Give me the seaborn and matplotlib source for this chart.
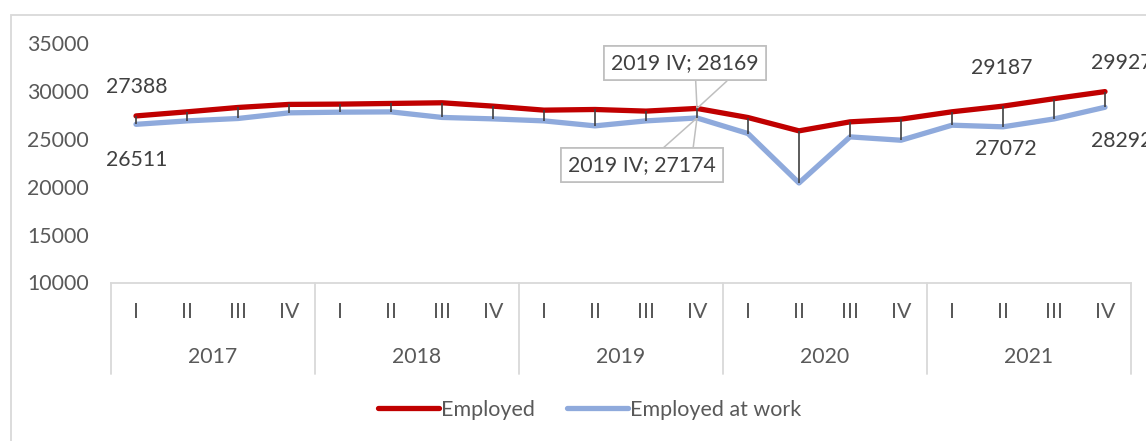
import pandas as pd
import matplotlib
matplotlib.use("Agg")
import matplotlib.pyplot as plt
import seaborn as sns
from matplotlib.patches import Rectangle
from matplotlib.lines import Line2D

sns.set_style("white")
plt.rcParams["font.family"] = ["Lato", "DejaVu Sans"]

# Dados
years = ["2017", "2018", "2019", "2020", "2021"]
quarters = ["I", "II", "III", "IV"]
employed = [27388, 27815, 28270, 28590, 28620, 28690, 28760, 28410, 27990, 28060,
            27890, 28169, 27220, 25830, 26770, 27050, 27820, 28410, 29187, 29927]
at_work = [26511, 26870, 27120, 27710, 27780, 27810, 27230, 27080, 26870, 26350,
           26870, 27174, 25550, 20390, 25200, 24850, 26420, 26250, 27072, 28292]
series_names = ["Employed", "Employed at work"]
colors = {"Employed": "#C00000", "Employed at work": "#8FAADC"}

FS = 15.3  # tamanho da fonte

n = len(employed)
pos = list(range(n))
df = pd.concat([
    pd.DataFrame({"pos": pos, "value": at_work, "serie": series_names[1]}),
    pd.DataFrame({"pos": pos, "value": employed, "serie": series_names[0]}),
])

W, H = 1146, 441
fig = plt.figure(figsize=(W / 100, H / 100), dpi=100)
ax = fig.add_axes([110.5 / W, 1 - 282.5 / H, 1020 / W, 239.5 / H])

sns.lineplot(data=df, x="pos", y="value", hue="serie", palette=colors, ax=ax,
             linewidth=3.8, legend=False, solid_capstyle="round", sort=False)

# linhas máximo-mínimo
ax.vlines(pos, at_work, employed, color="#404040", lw=1.2, zorder=5)

ax.set_xlim(-0.5, n - 0.5)
ax.set_ylim(10000, 35000)
ax.set_yticks(range(10000, 35001, 5000))
ax.tick_params(axis="y", length=0, pad=15.5, labelsize=FS, labelcolor="#595959")
ax.set_xticks([])
ax.set_xlabel("")
ax.set_ylabel("")
for s in ["top", "left", "right"]:
    ax.spines[s].set_visible(False)
ax.spines["bottom"].set_color("#D9D9D9")
ax.spines["bottom"].set_linewidth(1.3)

# eixo de categorias em dois níveis
tr = ax.get_xaxis_transform()
for i in range(n):
    ax.text(i, -0.125, quarters[i % 4], transform=tr, ha="center", va="center",
            fontsize=FS, color="#595959")
for k, y in enumerate(years):
    ax.text(4 * k + 1.5, -0.313, y, transform=tr, ha="center", va="center",
            fontsize=FS, color="#595959")
for k in range(len(years) + 1):
    ax.add_line(Line2D([4 * k - 0.5, 4 * k - 0.5], [0, -0.384], transform=tr,
                       color="#D9D9D9", lw=1.3, clip_on=False))

# rótulos de dados
lab = dict(textcoords="offset pixels", ha="center", va="center", fontsize=FS,
           color="#404040", annotation_clip=False)
ax.annotate(str(employed[0]), (0, employed[0]), xytext=(1, 29), **lab)
ax.annotate(str(at_work[0]), (0, at_work[0]), xytext=(1, -36), **lab)
ax.annotate(str(employed[18]), (18, employed[18]), xytext=(-52, 31), **lab)
ax.annotate(str(at_work[18]), (18, at_work[18]), xytext=(-48, -30), **lab)
ax.annotate(str(employed[19]), (19, employed[19]), xytext=(17, 29), **lab)
ax.annotate(str(at_work[19]), (19, at_work[19]), xytext=(17, -34), **lab)

# chamadas 2019 IV
box = dict(boxstyle="square,pad=0.33", fc="white", ec="#BFBFBF", lw=1.2)
lead = dict(arrowstyle="-", color="#BFBFBF", lw=1.1, shrinkA=0, shrinkB=0)
i = 11
txt_up = f"{years[2]} {quarters[3]}; {employed[i]}"
txt_dn = f"{years[2]} {quarters[3]}; {at_work[i]}"
ax.annotate(txt_up, (i, employed[i]), xytext=(-12, 45), bbox=box,
            arrowprops=dict(lead, relpos=(0.57, 0)), **lab)
ax.annotate(txt_up, (i, employed[i]), xytext=(-12, 45), bbox=box,
            arrowprops=dict(lead, relpos=(0.84, 0)), **lab)
ax.annotate(txt_dn, (i, at_work[i]), xytext=(-55, -47), bbox=box,
            arrowprops=dict(lead, relpos=(0.84, 1)), **lab)
ax.annotate(txt_dn, (i, at_work[i]), xytext=(-55, -47), bbox=box,
            arrowprops=dict(lead, relpos=(0.59, 1)), **lab)

# legenda
handles = [Line2D([], [], color=colors[s], lw=3.8, solid_capstyle="round") for s in series_names]
fig.legend(handles, series_names, loc="center", bbox_to_anchor=(590 / W, 1 - 410 / H),
           ncol=2, frameon=False, handlelength=2.8, handletextpad=0.12,
           columnspacing=1.5, fontsize=FS + 0.2, labelcolor="#595959")

# moldura do gráfico
fig.patches.append(Rectangle((11 / W, -0.1), 1.2, 1.1 - 15 / H, transform=fig.transFigure,
                             fill=False, ec="#D9D9D9", lw=1.3))

fig.savefig("out.png", dpi=100)
